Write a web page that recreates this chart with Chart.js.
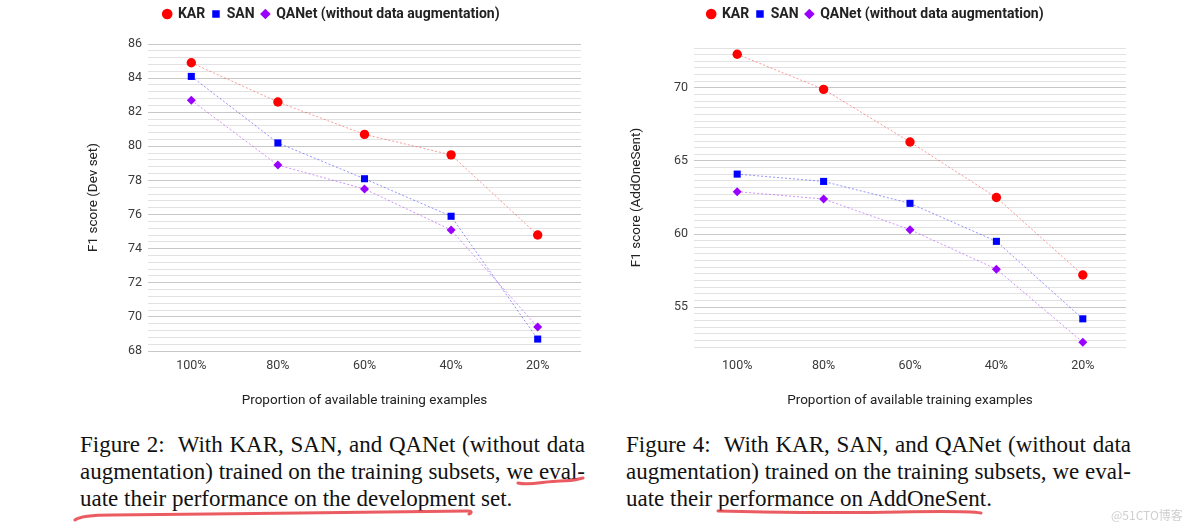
<!DOCTYPE html>
<html>
<head>
<meta charset="utf-8">
<script src="https://cdn.jsdelivr.net/npm/chart.js@4.4.1/dist/chart.umd.min.js"></script>
<style>
  body { margin: 0; background: #fff; width: 1184px; height: 527px; overflow: hidden; position: relative; }
  .chart { position: absolute; top: 0; height: 420px; }
  .caption { position: absolute; top: 431px; width: 505px; font-family: "Liberation Serif", "Times New Roman", serif; font-size: 23px; line-height: 27px; color: #111; }
  .caption .j { text-align: justify; text-align-last: justify; }
  #marks { position: absolute; left: 0; top: 0; pointer-events: none; }
  .wm { position: absolute; left: 1111px; top: 506px; font-family: "Noto Sans CJK SC", sans-serif; font-size: 12px; color: #cfcfcf; }
</style>
</head>
<body>
<div class="chart" style="left:60px;width:530px"><canvas id="chart-dev"></canvas></div>
<div class="chart" style="left:600px;width:535px"><canvas id="chart-aos"></canvas></div>

<div class="caption" style="left:80px">
  <div class="j">Figure 2:&nbsp; With KAR, SAN, and QANet (without data</div>
  <div class="j">augmentation) trained on the training subsets, we eval-</div>
  <div>uate their performance on the development set.</div>
</div>
<div class="caption" style="left:626px">
  <div class="j">Figure 4:&nbsp; With KAR, SAN, and QANet (without data</div>
  <div class="j">augmentation) trained on the training subsets, we eval-</div>
  <div>uate their performance on AddOneSent.</div>
</div>

<svg id="marks" width="1184" height="527">
  <g fill="none" stroke="rgba(232,64,70,0.85)" stroke-width="3" stroke-linecap="round">
    <path d="M518 483 C530 486, 545 481, 560 481 S578 479, 583 478"/>
    <path d="M75 520 C80 516, 92 515, 112 515 L300 513 L468 511 C472 511, 472 513, 469 514"/>
    <path d="M718 511 C760 512, 850 513, 900 512 S968 511, 981 513"/>
  </g>
</svg>
<div class="wm">@51CTO博客</div>

<script>
// 两张折线图：Dev set / AddOneSent

const categories = ['100%', '80%', '60%', '40%', '20%'];
const seriesNames = ['KAR', 'SAN', 'QANet (without data augmentation)'];

const devKAR   = [84.9, 82.6, 80.7, 79.5, 74.8];
const devSAN   = [84.1, 80.2, 78.1, 75.9, 68.7];
const devQANet = [82.7, 78.9, 77.5, 75.1, 69.4];

const aosKAR   = [72.3, 69.9, 66.3, 62.5, 57.2];
const aosSAN   = [64.1, 63.6, 62.1, 59.5, 54.2];
const aosQANet = [62.9, 62.4, 60.3, 57.6, 52.6];

const devTicks = [68, 70, 72, 74, 76, 78, 80, 82, 84, 86];
const aosTicks = [55, 60, 65, 70];

Chart.defaults.font.family = 'Roboto';

const styles = [
  { point: '#ff0000', line: 'rgba(255,70,70,0.55)',  shape: 'circle',  r: 4.7 },
  { point: '#0000ff', line: 'rgba(60,60,255,0.55)',  shape: 'rect',    r: 5 },
  { point: '#9900ff', line: 'rgba(170,60,255,0.55)', shape: 'rectRot', r: 4.5 },
];

// 给图例下方留出空隙
const legendGap = {
  id: 'legendGap',
  beforeInit(chart, args, opts) {
    const fit = chart.legend.fit;
    chart.legend.fit = function () {
      fit.bind(chart.legend)();
      this.height += opts.gap || 0;
    };
  },
};

function buildChart(id, series, cfg) {
  const isMajor = v => cfg.ticks.some(t => Math.abs(t - v) < 1e-6);
  return new Chart(document.getElementById(id), {
    type: 'line',
    data: {
      labels: categories,
      datasets: series.map((data, i) => ({
        label: seriesNames[i],
        data,
        borderColor: styles[i].line,
        backgroundColor: styles[i].point,
        borderWidth: 1,
        borderDash: [2, 2],
        tension: 0,
        pointStyle: styles[i].shape,
        pointRadius: styles[i].r,
        pointHoverRadius: styles[i].r,
        pointBackgroundColor: styles[i].point,
        pointBorderColor: styles[i].point,
        pointBorderWidth: 0,
      })),
    },
    options: {
      responsive: true,
      maintainAspectRatio: false,
      animation: false,
      layout: { padding: { left: cfg.padLeft, right: 9, top: 0, bottom: 7 } },
      plugins: {
        legendGap: { gap: cfg.gap },
        tooltip: { enabled: false },
        legend: {
          position: 'top',
          labels: {
            usePointStyle: true,
            boxWidth: 7.5,
            boxHeight: 7.5,
            padding: 7,
            color: '#222',
            font: { size: 14, weight: 'bold' },
            generateLabels: chart =>
              Chart.defaults.plugins.legend.labels.generateLabels(chart).map(l => ({
                ...l, strokeStyle: l.fillStyle, lineWidth: 0, lineDash: [],
              })),
          },
        },
      },
      scales: {
        x: {
          offset: true,
          grid: { display: false, drawTicks: false },
          border: { display: false },
          ticks: { color: '#3a3a3a', font: { size: 12.5 }, padding: cfg.xPad, maxRotation: 0 },
          title: { display: true, text: 'Proportion of available training examples', color: '#222', font: { size: 13.5 } },
          afterFit: s => { s.height = cfg.xHeight; },
        },
        y: {
          min: cfg.min,
          max: cfg.max,
          border: { display: false },
          grid: {
            drawTicks: false,
            color: ctx => isMajor(ctx.tick.value) ? '#c8c8c8' : '#e2e2e2',
          },
          ticks: {
            autoSkip: false,
            padding: 6,
            color: '#3a3a3a',
            font: { size: 12.5 },
            callback: v => {
              const t = cfg.ticks.find(t => Math.abs(t - v) < 1e-6);
              return t === undefined ? '' : String(t);
            },
          },
          afterBuildTicks: s => {
            const n = Math.round((cfg.max - cfg.min) / cfg.step);
            const list = [];
            for (let i = 0; i <= n; i++) list.push({ value: cfg.min + i * cfg.step });
            s.ticks = list;
          },
          title: { display: true, text: cfg.yTitle, color: '#222', font: { size: 13.5 } },
          afterFit: s => { s.width = cfg.yWidth; },
        },
      },
    },
    plugins: [legendGap],
  });
}

buildChart('chart-dev', [devKAR, devSAN, devQANet], {
  ticks: devTicks, min: 68, max: 86, step: 0.4,
  yTitle: 'F1 score (Dev set)',
  padLeft: 22, yWidth: 66, xHeight: 62, xPad: 7, gap: 13,
});

buildChart('chart-aos', [aosKAR, aosSAN, aosQANet], {
  ticks: aosTicks, min: 55 - 30 / 11, max: 70 + 30 / 11, step: 5 / 11,
  yTitle: 'F1 score (AddOneSent)',
  padLeft: 25, yWidth: 69, xHeight: 66, xPad: 11, gap: 17,
});
</script>
</body>
</html>
